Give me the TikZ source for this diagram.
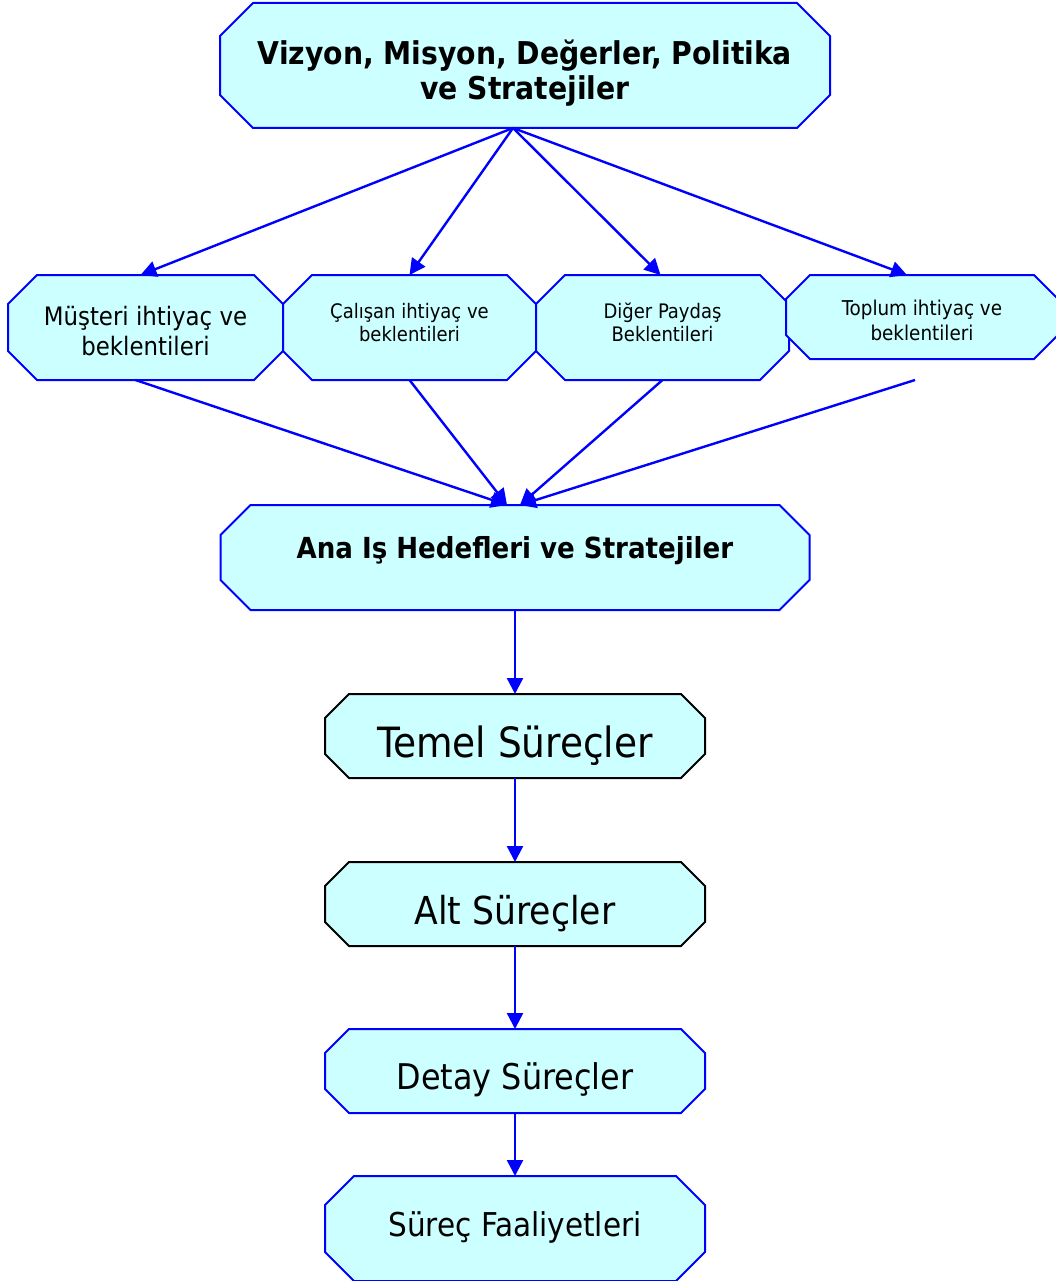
\documentclass[tikz,border=0pt]{standalone}
\usepackage{fontspec}
\setmainfont{DejaVu Sans Condensed}
\usepackage{tikz}
\usetikzlibrary{arrows.meta, calc, backgrounds}

\definecolor{boxfill}{RGB}{204,255,255}
\definecolor{lineblue}{RGB}{0,0,255}

\begin{document}
\begin{tikzpicture}[x=1pt, y=-1pt,
					every node/.style = {rectangle, outer sep=0pt, inner sep=0pt, align=center, text depth=0pt},
					link/.style = {draw=lineblue, line width=2.4pt, -{Triangle[length=16pt,width=16pt]}}]

\tikzset{octbox/.style = {fill=boxfill, line width=2pt}}
\tikzset{wide/.style = {minimum width=253pt, minimum height=105pt}}
\tikzset{proc/.style = {minimum width=380pt, minimum height=84pt}}

\useasboundingbox (0,0) rectangle (1056,1281);

% upper part
\node (vizyon) [minimum width=610pt, minimum height=125pt, text height=69pt,
	font=\fontsize{31.4}{35}\selectfont\bfseries] at (525,65.5)
	{Vizyon, Misyon, Değerler, Politika\\ ve Stratejiler};
\node (musteri) [wide, minimum width=275pt, text height=55pt,
	font=\fontsize{25.4}{30}\selectfont] at (145.5,327.5)
	{Müşteri ihtiyaç ve\\ beklentileri};
\node (calisan) [wide, text height=28.4pt,
	font=\fontsize{20}{23.4}\selectfont] at (409.5,327.5)
	{Çalışan ihtiyaç ve\\ beklentileri};
\node (diger) [wide, text height=28.4pt,
	font=\fontsize{20}{23.4}\selectfont] at (662.5,327.5)
	{Diğer Paydaş\\ Beklentileri};
\node (toplum) [minimum width=272pt, minimum height=84pt, text height=46pt,
	font=\fontsize{20.4}{25}\selectfont] at (922,317)
	{Toplum ihtiyaç ve\\ beklentileri};
\coordinate (toplumalt) at (915,380);

% lower part
\node (ana) [minimum width=589pt, minimum height=105pt, text height=1.8pt,
	font=\fontsize{29}{35}\selectfont\bfseries] at (515,557.5)
	{Ana Iş Hedefleri ve Stratejiler};
\node (temel) [proc, text height=43pt, font=\fontsize{41.7}{50}\selectfont] at (515,736) {Temel Süreçler};
\node (alt) [proc, text height=41pt, font=\fontsize{38.5}{46}\selectfont] at (515,904) {Alt Süreçler};
\node (detay) [proc, text height=37pt, font=\fontsize{35.4}{42}\selectfont] at (515,1071) {Detay Süreçler};
\node (faaliyet) [proc, minimum height=105pt, text height=15pt, font=\fontsize{32.8}{39}\selectfont]
	at (515,1228.5) {Süreç Faaliyetleri};

% octagons behind the texts
\begin{scope}[on background layer]
\foreach \n/\c/\col in {vizyon/33/lineblue, musteri/29/lineblue, calisan/29/lineblue,
		diger/29/lineblue, toplum/24/lineblue, ana/30/lineblue, temel/24/black,
		alt/24/black, detay/24/lineblue, faaliyet/29/lineblue}
	\draw[octbox, draw=\col] ($(\n.north west)+(\c,0)$) -- ($(\n.north east)+(-\c,0)$)
		-- ($(\n.north east)+(0,\c)$) -- ($(\n.south east)+(0,-\c)$)
		-- ($(\n.south east)+(-\c,0)$) -- ($(\n.south west)+(\c,0)$)
		-- ($(\n.south west)+(0,-\c)$) -- ($(\n.north west)+(0,\c)$) -- cycle;
\end{scope}

% connectors
\draw[link] ([xshift=-12pt]vizyon.south) -- ([xshift=-5pt]musteri.north);
\draw[link] ([xshift=-12pt]vizyon.south) -- (calisan.north);
\draw[link] ([xshift=-12pt]vizyon.south) -- ([xshift=-2pt]diger.north);
\draw[link] ([xshift=-12pt]vizyon.south) -- ([xshift=-15pt]toplum.north);

\draw[link] ([xshift=-10pt]musteri.south) -- ([xshift=-8pt]ana.north);
\draw[link] (calisan.south) -- ([xshift=-8pt]ana.north);
\draw[link] (diger.south) -- ([xshift=5pt]ana.north);
\draw[link] (toplumalt) -- ([xshift=5pt]ana.north);

\draw[link] (ana) -- (temel);
\draw[link] (temel) -- (alt);
\draw[link] (alt) -- (detay);
\draw[link] (detay) -- (faaliyet);
\end{tikzpicture}
\end{document}
